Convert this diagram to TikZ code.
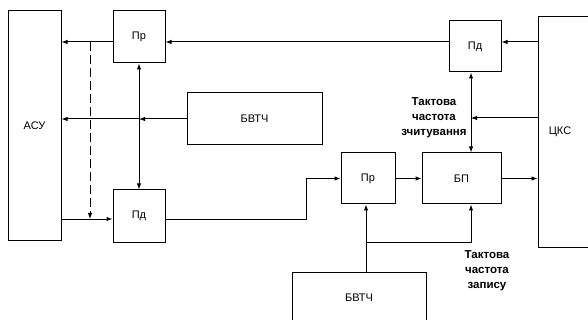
\documentclass[tikz,border=0pt]{standalone}
\usepackage{fontspec}
\setmainfont{Liberation Sans}
\usetikzlibrary{arrows.meta,calc}

\begin{document}
\begin{tikzpicture}[x=1pt,y=-1pt,font=\fontsize{11}{13}\selectfont,
  blk/.style={draw,line width=1pt,inner sep=0pt,minimum width=52pt,minimum height=52pt},
  link/.style={line width=1pt,-{Latex[length=6pt,width=4.5pt]}},
  both/.style={line width=1pt,{Latex[length=6pt,width=4.5pt]}-{Latex[length=6pt,width=4.5pt]}},
  note/.style={align=center,font=\fontsize{11.5}{15}\selectfont\bfseries,inner sep=0pt}]
  % frame
  \useasboundingbox (0,0) rectangle (588,320);
  \clip (0,0) rectangle (588,320);

  % blocks
  \node[blk,minimum width=53pt,minimum height=229pt] (asu) at (34.5,125.5) {АСУ};
  \node[blk] (pr1) at (139,37) {Пр};
  \node[blk] (pd1) at (139,216) {Пд};
  \node[blk,minimum width=135pt] (bvtch1) at (254.5,119) {БВТЧ};
  \node[blk,minimum height=51pt] (pd2) at (475,46.5) {Пд};
  \node[blk,minimum width=102pt,minimum height=230pt] (cks) at (589,132) {};
  \node (ckslbl) at (560,132) {ЦКС};
  \node[blk,minimum width=54pt,minimum height=51pt] (pr2) at (368,178.5) {Пр};
  \node[blk,minimum width=79pt,minimum height=51pt] (bp) at (461.5,178.5) {БП};
  \node[blk,minimum width=134pt] (bvtch2) at (359,298) {БВТЧ};

  % clock labels
  \node[note] (rdclk) at (434,118) {Тактова\\частота\\зчитування};
  \node[note] (wrclk) at (487,271) {Тактова\\частота\\запису};

  % helper points
  \coordinate (top) at (0,42);
  \coordinate (clk) at (471,0);
  \coordinate (bend) at (306,0);
  \coordinate (fork) at (366,242);
  \coordinate (dashA) at (90,42);
  \coordinate (dashB) at (90,219);

  % left part
  \draw[link] (pr1.west |- top) -- (asu.east |- top);
  \draw[link] (pd2.west |- top) -- (pr1.east |- top);
  \draw[link] (bvtch1.west) -- (pr1.south |- bvtch1.west);
  \draw[link] (pr1.south |- bvtch1.west) -- (asu.east |- bvtch1.west);
  \draw[both] (pr1.south) -- (pd1.north);
  \draw[link] (asu.east |- dashB) -- (pd1.west |- dashB);
  \draw[line width=1pt,dash pattern=on 9pt off 4pt,-{Latex[length=6pt,width=4.5pt]}] (dashA) -- (dashB);

  % right part
  \draw[link] (pd1.east |- dashB) -- (bend |- dashB) -- (bend |- pr2.west) -- (pr2.west);
  \draw[link] (pr2.east) -- (bp.west);
  \draw[link] (bp.east) -- (bp.east -| cks.west);
  \draw[link] (cks.west |- top) -- (pd2.east |- top);
  \draw[both] (clk |- pd2.south) -- (clk |- bp.north);
  \draw[link] (cks.west |- rdclk) -- (clk |- rdclk);
  \draw[link] (fork |- bvtch2.north) -- (fork |- pr2.south);
  \draw[link] (fork) -| (clk |- bp.south);
\end{tikzpicture}
\end{document}
